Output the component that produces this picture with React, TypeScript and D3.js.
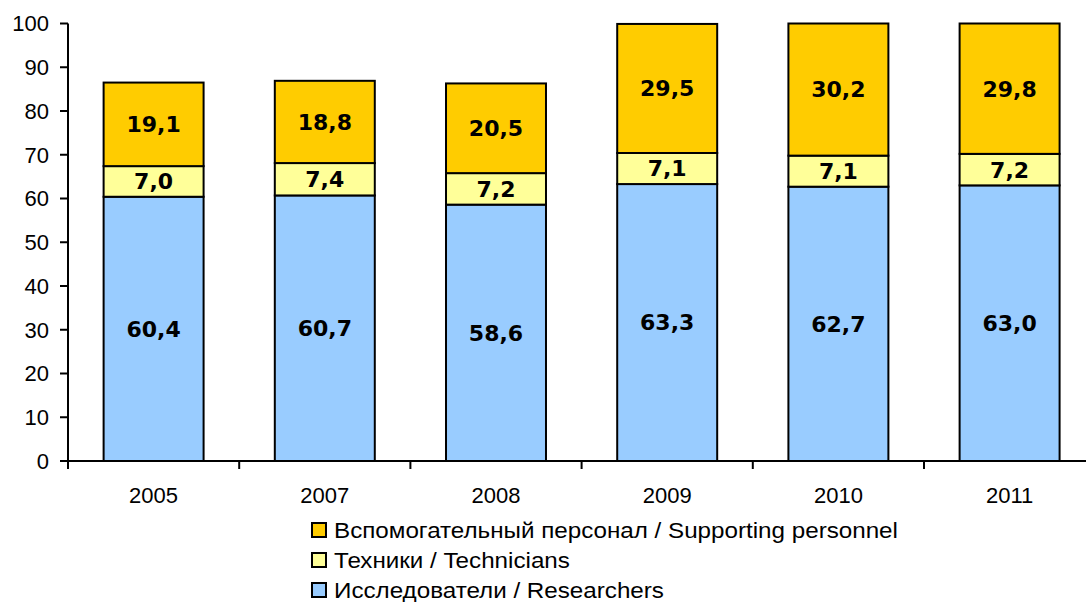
import React, { useEffect, useRef } from 'react';
import * as d3 from 'd3';

const years = ['2005', '2007', '2008', '2009', '2010', '2011'];
const researchers = [60.4, 60.7, 58.6, 63.3, 62.7, 63.0];
const technicians = [7.0, 7.4, 7.2, 7.1, 7.1, 7.2];
const supporting = [19.1, 18.8, 20.5, 29.5, 30.2, 29.8];
const yTicks = [0, 10, 20, 30, 40, 50, 60, 70, 80, 90, 100];

const seriesKeys = ['researchers', 'technicians', 'supporting'];
const seriesNames = [
  'Исследователи / Researchers',
  'Техники / Technicians',
  'Вспомогательный персонал / Supporting personnel',
];
const colors = ['#99CCFF', '#FFFF99', '#FFCC00'];

const W = 1086;
const H = 602;

export default function App() {
  const ref = useRef<SVGSVGElement>(null);

  useEffect(() => {
    const svg = d3.select(ref.current);
    svg.selectAll('*').remove();

    const left = 68;
    const band = 171.2;
    const x = d3.scaleBand<string>()
      .domain(years)
      .range([left, left + band * years.length])
      .paddingInner(0.416)
      .paddingOuter(0.208);
    const y = d3.scaleLinear().domain([0, 100]).range([461, 23.5]);

    const rows = years.map((yr, i) => ({
      year: yr,
      researchers: researchers[i],
      technicians: technicians[i],
      supporting: supporting[i],
    }));
    const stacked = d3.stack<any>().keys(seriesKeys)(rows);

    const g = svg.append('g');

    stacked.forEach((layer, si) => {
      g.selectAll(null)
        .data(layer)
        .enter()
        .append('rect')
        .attr('x', d => x(d.data.year)!)
        .attr('width', x.bandwidth())
        .attr('y', d => y(d[1]))
        .attr('height', d => y(d[0]) - y(d[1]))
        .attr('fill', colors[si])
        .attr('stroke', '#000')
        .attr('stroke-width', 2);

      g.selectAll(null)
        .data(layer)
        .enter()
        .append('text')
        .attr('x', d => x(d.data.year)! + x.bandwidth() / 2)
        .attr('y', d => (y(d[0]) + y(d[1])) / 2)
        .attr('dy', '0.36em')
        .attr('text-anchor', 'middle')
        .style('font-family', '"DejaVu Sans", Verdana, sans-serif')
        .style('font-weight', 'bold')
        .style('font-size', '22px')
        .text(d => d3.format('.1f')(d[1] - d[0]).replace('.', ','));
    });

    // y axis
    const yAxis = g.append('g');
    yAxis.append('line')
      .attr('x1', left).attr('x2', left)
      .attr('y1', y(0)).attr('y2', y(100))
      .attr('stroke', '#000').attr('stroke-width', 2);
    yTicks.forEach(t => {
      yAxis.append('line')
        .attr('x1', left - 8).attr('x2', left)
        .attr('y1', y(t)).attr('y2', y(t))
        .attr('stroke', '#000').attr('stroke-width', 2);
      yAxis.append('text')
        .attr('x', left - 19)
        .attr('y', y(t))
        .attr('dy', '0.36em')
        .attr('text-anchor', 'end')
        .style('font-family', '"Liberation Sans", Arial, sans-serif')
        .style('font-size', '22px')
        .text(t);
    });

    // x axis
    const xAxis = g.append('g');
    xAxis.append('line')
      .attr('x1', left - 8).attr('x2', W)
      .attr('y1', y(0)).attr('y2', y(0))
      .attr('stroke', '#000').attr('stroke-width', 2);
    years.forEach((yr, i) => {
      const tx = left + band * i;
      xAxis.append('line')
        .attr('x1', tx).attr('x2', tx)
        .attr('y1', y(0)).attr('y2', y(0) + 8)
        .attr('stroke', '#000').attr('stroke-width', 2);
      xAxis.append('text')
        .attr('x', x(yr)! + x.bandwidth() / 2)
        .attr('y', 503)
        .attr('text-anchor', 'middle')
        .style('font-family', '"Liberation Sans", Arial, sans-serif')
        .style('font-size', '22px')
        .text(yr);
    });

    // legend (reverse order)
    const legend = g.append('g');
    const order = [2, 1, 0];
    order.forEach((si, k) => {
      const cy = 530 + k * 30;
      legend.append('rect')
        .attr('x', 312).attr('y', cy - 7)
        .attr('width', 14).attr('height', 14)
        .attr('fill', colors[si])
        .attr('stroke', '#000').attr('stroke-width', 2);
      legend.append('text')
        .attr('transform', `translate(334,${cy}) scale(1.1,1)`)
        .attr('dy', '0.36em')
        .style('font-family', '"Liberation Sans", Arial, sans-serif')
        .style('font-size', '22px')
        .text(seriesNames[si]);
    });
  }, []);

  return (
    <svg
      ref={ref}
      width={W}
      height={H}
      style={{ position: 'absolute', left: 0, top: 0, background: '#fff' }}
    />
  );
}
